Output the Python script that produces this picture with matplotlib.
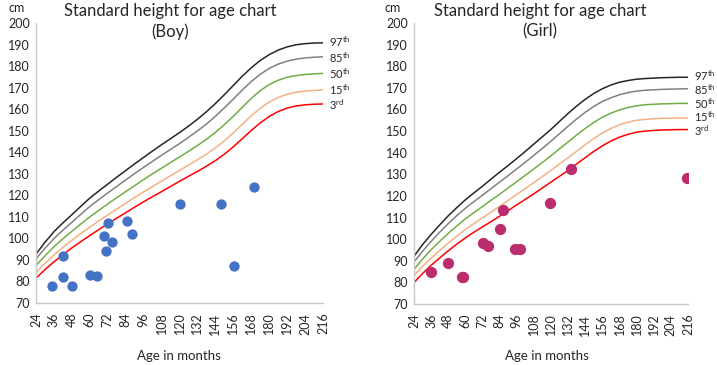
import matplotlib
matplotlib.use("Agg")
import matplotlib.pyplot as plt

plt.rcParams['font.family'] = ['Lato', 'DejaVu Sans']
plt.rcParams['mathtext.fontset'] = 'custom'
plt.rcParams['mathtext.rm'] = 'Lato'
plt.rcParams['mathtext.it'] = 'Lato'

ages = list(range(24, 217, 6))
xticks = list(range(24, 217, 12))
yticks = list(range(70, 201, 10))

boy_p97 = [92.7, 98.2, 103.1, 107.2, 111.0, 114.9, 118.7, 122.0, 125.2, 128.4, 131.5, 134.6, 137.6, 140.6, 143.5, 146.3, 149.1,
           152.1, 155.3, 158.8, 162.6, 166.7, 171.0, 175.3, 179.2, 182.6, 185.3, 187.4, 188.9, 189.9, 190.4, 190.7, 190.8]
boy_p85 = [90.5, 95.4, 99.9, 103.8, 107.5, 111.2, 114.8, 118.0, 121.1, 124.1, 127.1, 130.1, 133.0, 135.8, 138.6, 141.3, 144.0,
           146.9, 149.9, 153.1, 156.7, 160.6, 164.7, 168.9, 172.8, 176.2, 178.9, 180.9, 182.3, 183.2, 183.8, 184.1, 184.3]
boy_p50 = [87.4, 91.9, 96.1, 99.8, 103.3, 106.7, 110.0, 113.0, 116.0, 118.9, 121.7, 124.5, 127.3, 130.0, 132.6, 135.2, 137.8,
           140.4, 143.1, 146.0, 149.2, 152.8, 156.7, 160.9, 165.0, 168.6, 171.4, 173.4, 174.8, 175.6, 176.1, 176.4, 176.6]
boy_p15 = [84.1, 88.4, 92.3, 95.8, 99.1, 102.2, 105.2, 108.1, 110.9, 113.6, 116.3, 119.0, 121.6, 124.1, 126.6, 129.1, 131.6,
           134.0, 136.5, 139.1, 142.0, 145.3, 149.0, 153.0, 156.9, 160.4, 163.3, 165.4, 166.9, 167.9, 168.4, 168.7, 168.9]
boy_p3 = [81.5, 85.5, 89.1, 92.4, 95.6, 98.5, 101.3, 104.1, 106.8, 109.4, 111.9, 114.5, 117.0, 119.4, 121.7, 124.1, 126.5,
          128.8, 131.1, 133.5, 136.1, 139.1, 142.5, 146.3, 150.1, 153.6, 156.6, 158.9, 160.5, 161.5, 162.0, 162.3, 162.4]

girl_p97 = [92.1, 97.5, 102.2, 106.6, 110.8, 114.6, 118.2, 121.4, 124.5, 127.8, 131.0, 134.1, 137.3, 140.6, 144.0, 147.4, 150.8,
            154.5, 158.2, 161.6, 164.7, 167.4, 169.6, 171.3, 172.6, 173.4, 174.0, 174.3, 174.5, 174.7, 174.8, 174.9, 174.9]
girl_p85 = [89.4, 94.4, 99.0, 103.2, 107.2, 110.9, 114.3, 117.4, 120.3, 123.4, 126.4, 129.4, 132.5, 135.6, 138.8, 142.0, 145.3,
            148.8, 152.3, 155.6, 158.7, 161.4, 163.7, 165.4, 166.8, 167.8, 168.5, 168.9, 169.1, 169.3, 169.4, 169.5, 169.6]
girl_p50 = [86.0, 90.8, 95.1, 99.0, 102.7, 106.1, 109.4, 112.3, 115.1, 118.0, 120.8, 123.7, 126.6, 129.5, 132.5, 135.5, 138.6,
            141.8, 145.0, 148.2, 151.2, 154.0, 156.4, 158.3, 159.8, 160.9, 161.7, 162.2, 162.4, 162.6, 162.7, 162.8, 162.8]
girl_p15 = [83.2, 87.4, 91.2, 94.8, 98.2, 101.4, 104.5, 107.2, 109.9, 112.5, 115.2, 117.9, 120.7, 123.4, 126.2, 129.0, 131.9,
            134.8, 137.7, 140.7, 143.7, 146.6, 149.1, 151.2, 152.9, 154.1, 155.0, 155.4, 155.7, 155.9, 156.0, 156.1, 156.1]
girl_p3 = [79.9, 84.1, 87.9, 91.3, 94.6, 97.7, 100.6, 103.2, 105.7, 108.1, 110.6, 113.2, 115.9, 118.4, 121.0, 123.7, 126.4,
           129.1, 131.8, 134.8, 137.7, 140.6, 143.2, 145.4, 147.2, 148.5, 149.5, 150.0, 150.3, 150.5, 150.6, 150.7, 150.7]

boy_age = [35, 42, 42, 48, 60, 65, 69.5, 70.5, 72, 75, 85, 88, 120.5, 148, 156.5, 170]
boy_height = [78, 92, 82, 78, 83, 82.5, 101, 94, 107, 98.5, 108, 102, 116, 116, 87, 124]

girl_age = [36, 48, 57.5, 58.5, 72.5, 76, 84.5, 86.5, 94.5, 98, 119, 134, 215]
girl_height = [85, 89, 82.6, 82.6, 98, 97, 104.5, 113.5, 95.6, 95.6, 116.5, 132.5, 128.3]

pct_labels = [r'97$^{\mathrm{th}}$', r'85$^{\mathrm{th}}$', r'50$^{\mathrm{th}}$', r'15$^{\mathrm{th}}$', r'3$^{\mathrm{rd}}$']
label_dy = [1.0, -0.5, 0.0, 0.5, -0.5]
line_colors = ['#262626', '#808080', '#70ad47', '#f4b183', '#ff0000']

fig = plt.figure(figsize=(7.17, 3.65), dpi=100)

def panel(rect, curves, pts_x, pts_y, dot_color, dot_size, subtitle, title_x, cm_x, xl_x):
    ax = fig.add_axes(rect)
    for vals, col, lab, dy in zip(curves, line_colors, pct_labels, label_dy):
        ax.plot(ages, vals, color=col, lw=1.1, zorder=2, solid_joinstyle='round')
        ax.annotate(lab, xy=(216, vals[-1]), xytext=(4, dy), textcoords='offset points',
                    fontsize=8, va='center', ha='left', annotation_clip=False, color='#262626')
    ax.scatter(pts_x, pts_y, s=dot_size, color=dot_color, zorder=3, linewidths=0)
    ax.set_xlim(24, 216)
    ax.set_ylim(70, 200)
    ax.set_xticks(xticks)
    ax.set_xticklabels([str(v) for v in xticks], rotation=90)
    ax.set_yticks(yticks)
    ax.tick_params(axis='both', length=0, labelsize=9, colors='#262626')
    ax.tick_params(axis='x', pad=7)
    ax.tick_params(axis='y', pad=4.5)
    for s in ['top', 'right']:
        ax.spines[s].set_visible(False)
    for s in ['left', 'bottom']:
        ax.spines[s].set_color('#c8c8c8')
        ax.spines[s].set_linewidth(1.0)
    fig.text(title_x, 1 - 21.5 / 365, 'Standard height for age chart\n' + subtitle,
             ha='center', va='center', fontsize=12, color='#262626', linespacing=1.35)
    fig.text(cm_x, 1 - 8 / 365, 'cm', ha='center', va='center', fontsize=9, color='#262626')
    fig.text(xl_x, 1 - 356 / 365, 'Age in months', ha='center', va='center', fontsize=9.5, color='#262626')
    return ax

panel([36 / 717, 62 / 365, 287 / 717, 280 / 365],
      [boy_p97, boy_p85, boy_p50, boy_p15, boy_p3],
      boy_age, boy_height, '#4472c4', 55, '(Boy)', 170 / 717, 17 / 717, 179 / 717)
panel([414 / 717, 61 / 365, 274 / 717, 281 / 365],
      [girl_p97, girl_p85, girl_p50, girl_p15, girl_p3],
      girl_age, girl_height, '#bb2d6e', 66, '(Girl)', 540 / 717, 393 / 717, 547 / 717)

fig.savefig('out.png', dpi=100)
